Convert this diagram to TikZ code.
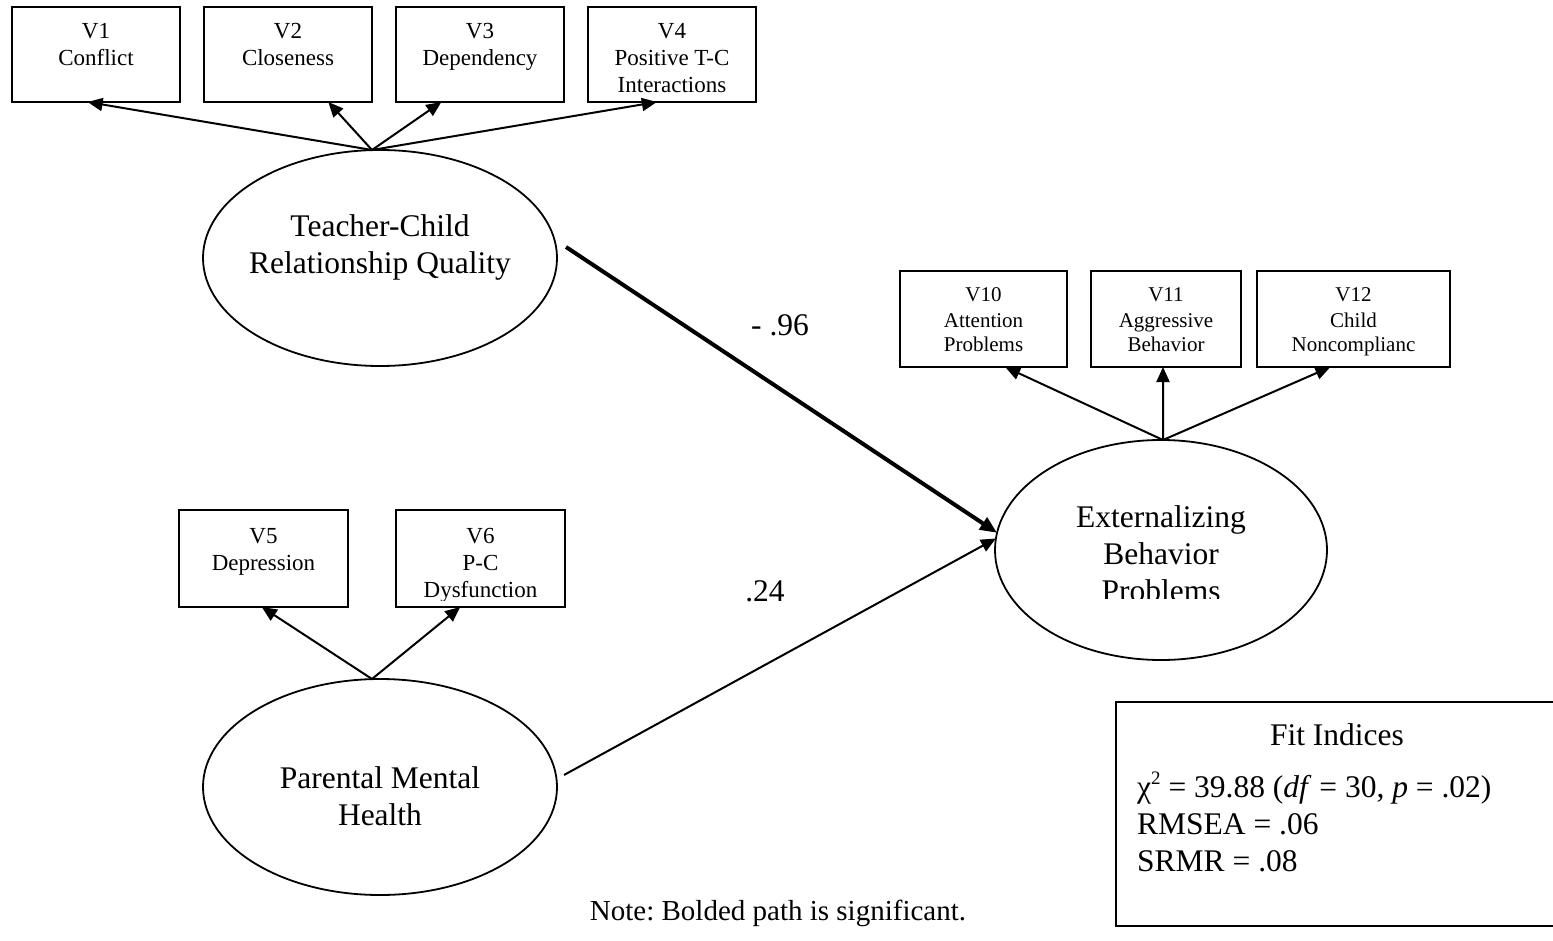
\documentclass[tikz,border=0pt]{standalone}
\usepackage{fontspec}
\setmainfont{Liberation Serif}
\usetikzlibrary{arrows.meta,shapes.geometric,calc}
\frenchspacing

% stacked, centred lines whose node base is the first baseline
\newcommand{\stack}[1]{\parbox[t]{400pt}{\centering #1}}

\begin{document}
\begin{tikzpicture}[x=1pt,y=-1pt,
  ind/.style={draw, line width=2.4pt, inner sep=0pt, outer sep=0pt, anchor=north west},
  lat/.style={draw, ellipse, line width=1.8pt, inner sep=0pt, outer sep=0pt},
  indtxt/.style={anchor=base, inner sep=0pt, font=\fontsize{23}{27}\selectfont},
  smalltxt/.style={anchor=base, inner sep=0pt, font=\fontsize{21}{25}\selectfont},
  bigtxt/.style={anchor=base, inner sep=0pt, font=\fontsize{31.5}{37}\selectfont},
  load/.style={line width=2pt, -{Triangle[length=15pt,width=13pt]}},
  path/.style={line width=2pt, -{Triangle[length=15pt,width=13pt]}},
  sigpath/.style={line width=4pt, -{Triangle[length=17pt,width=14pt]}}
]
\useasboundingbox (0,0) rectangle (1553,941);

% ---------- latent variables ----------
\node[lat, minimum width=354pt, minimum height=216pt] (tc) at (380,258) {};
\node[lat, minimum width=354pt, minimum height=216pt] (pm) at (380,787) {};
\node[lat, minimum width=332pt, minimum height=220pt] (ext) at (1161,550) {};

\node[bigtxt] (tct) at (380,237) {\stack{Teacher-Child\\Relationship Quality}};
\node[bigtxt] (pmt) at (380,788) {\stack{Parental Mental\\Health}};
\begin{scope}
  \clip ($(ext.center)+(-160,-60)$) rectangle ($(ext.center)+(160,48)$);
  \node[bigtxt] (extt) at (1161,527) {\stack{Externalizing\\Behavior\\Problems}};
\end{scope}

% ---------- indicators of teacher-child relationship ----------
\node[ind, minimum width=168pt, minimum height=95pt] (v1) at (12,7) {};
\node[ind, minimum width=168pt, minimum height=95pt] (v2) at (204,7) {};
\node[ind, minimum width=168pt, minimum height=95pt] (v3) at (396,7) {};
\node[ind, minimum width=168pt, minimum height=95pt] (v4) at (588,7) {};
\node[indtxt] (v1t) at ($(v1.north)+(0,32)$) {\stack{V1\\Conflict}};
\node[indtxt] (v2t) at ($(v2.north)+(0,32)$) {\stack{V2\\Closeness}};
\node[indtxt] (v3t) at ($(v3.north)+(0,32)$) {\stack{V3\\Dependency}};
\node[indtxt] (v4t) at ($(v4.north)+(0,32)$) {\stack{V4\\Positive T-C\\Interactions}};

% ---------- indicators of externalizing behavior ----------
\node[ind, minimum width=167pt, minimum height=96pt] (v10) at (900,271) {};
\node[ind, minimum width=150pt, minimum height=96pt] (v11) at (1091,271) {};
\node[ind, minimum width=193pt, minimum height=96pt] (v12) at (1257,271) {};
\node[smalltxt] (v10t) at ($(v10.north)+(0,31)$) {\stack{V10\\Attention\\Problems}};
\node[smalltxt] (v11t) at ($(v11.north)+(0,31)$) {\stack{V11\\Aggressive\\Behavior}};
\node[smalltxt] (v12t) at ($(v12.north)+(0,31)$) {\stack{V12\\Child\\Noncomplianc}};

% ---------- indicators of parental mental health ----------
\node[ind, minimum width=169pt, minimum height=97pt] (v5) at (179,510) {};
\node[ind, minimum width=169pt, minimum height=97pt] (v6) at (396,510) {};
\node[indtxt] (v5t) at ($(v5.north)+(0,33)$) {\stack{V5\\Depression}};
\begin{scope}
  \clip (v6.north west) rectangle ($(v6.south east)+(0,-7)$);
  \node[indtxt] (v6t) at ($(v6.north)+(0,33)$) {\stack{V6\\P-C\\Dysfunction}};
\end{scope}

% ---------- loadings ----------
\coordinate (tcTop) at ($(tc.north)+(-8,0)$);
\coordinate (pmTop) at ($(pm.north)+(-8,0)$);
\coordinate (extTop) at ($(ext.north)+(2,0)$);

\draw[load] (tcTop) -- ($(v1.south west)!0.45!(v1.south east)$);
\draw[load] (tcTop) -- ($(v2.south west)!0.74!(v2.south east)$);
\draw[load] (tcTop) -- ($(v3.south west)!0.27!(v3.south east)$);
\draw[load] (tcTop) -- ($(v4.south west)!0.41!(v4.south east)$);

\draw[load] (extTop) -- ($(v10.south west)!0.63!(v10.south east)$);
\draw[load] (extTop) -- ($(v11.south west)!0.48!(v11.south east)$);
\draw[load] (extTop) -- ($(v12.south west)!0.38!(v12.south east)$);

\draw[load] (pmTop) -- ($(v5.south west)!0.49!(v5.south east)$);
\draw[load] (pmTop) -- ($(v6.south west)!0.38!(v6.south east)$);

% ---------- structural paths ----------
\coordinate (tcOut) at ($(tc.east)+(9,-11)$);
\coordinate (pmOut) at ($(pm.east)+(7,-12)$);
\draw[sigpath] (tcOut) -- (ext.174);
\draw[path] (pmOut) -- (ext.176);

\node[bigtxt] (w1) at (780,336) {- .96};
\node[bigtxt] (w2) at (765,601) {.24};

% ---------- fit indices ----------
\begin{scope}
  \clip (0,0) rectangle (1553,941);
  \node[ind, minimum width=442pt, minimum height=224pt] (fit) at (1116,702) {};
\end{scope}
\node[bigtxt] (fitt) at (1337,745) {Fit Indices};
\node[bigtxt, anchor=base west] (fitv) at (1137,797)
  {\parbox[t]{400pt}{\raggedright
   χ\raisebox{13pt}{\fontsize{19}{19}\selectfont 2} = 39.88 (\textit{df} = 30, \textit{p} = .02)\\
   RMSEA = .06\\
   SRMR = .08}};

% ---------- note ----------
\node[anchor=base, inner sep=0pt, font=\fontsize{29}{34}\selectfont] (note) at (778,920)
  {Note: Bolded path is significant.};
\end{tikzpicture}
\end{document}
